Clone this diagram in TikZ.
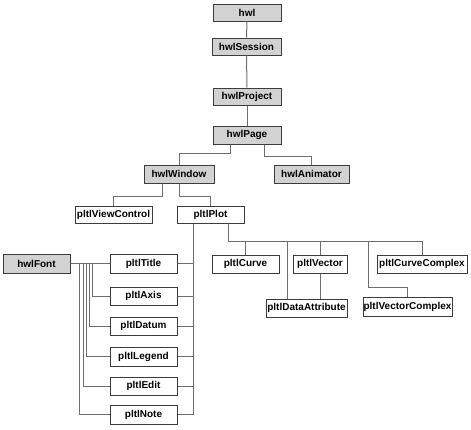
\documentclass[tikz,border=0pt]{standalone}
\usepackage{fontspec}
\setmainfont{Liberation Sans}
\usepackage{tikz}

\definecolor{boxgray}{HTML}{D2D2D2}
\definecolor{edgegray}{HTML}{3C3C3C}
\definecolor{linkgray}{HTML}{6E6E6E}

\tikzset{
    cls/.style={draw=edgegray, line width=1pt, fill=white, inner sep=0pt,
        minimum height=17pt, font=\fontsize{10}{11}\selectfont\bfseries},
    hcls/.style={cls, fill=boxgray},
    link/.style={draw=linkgray, line width=1pt}
}

\begin{document}
\begin{tikzpicture}[x=1pt, y=-1pt]
        \useasboundingbox (0,0) rectangle (471,429);
        % hwl part
        \node[hcls, minimum width=68pt] (hwl) at (247,12.5) {hwl};
        \node[hcls, minimum width=69pt] (session) at (246.5,46.5) {hwlSession};
        \node[hcls, minimum width=68pt] (project) at (247,96.5) {hwlProject};
        \node[hcls, minimum width=68pt, minimum height=18pt] (page) at (247,135) {hwlPage};
        \node[hcls, minimum width=70pt, minimum height=18pt] (window) at (179,174) {hwlWindow};
        \node[hcls, minimum width=75pt, minimum height=18pt] (animator) at (311.5,174) {hwlAnimator};
        \node[hcls, minimum width=67pt, minimum height=19pt] (font) at (36.5,263.5) {hwlFont};

        % pltl part
        \node[cls, minimum width=77pt] (viewctrl) at (113.5,214.5) {pltlViewControl};
        \node[cls, minimum width=67pt] (plot) at (210.5,214.5) {pltlPlot};
        \node[cls, minimum width=67pt, minimum height=19pt] (title) at (143.5,263.5) {pltlTitle};
        \node[cls, minimum width=67pt, minimum height=18pt] (axis) at (143.5,296) {pltlAxis};
        \node[cls, minimum width=67pt, minimum height=18pt] (datum) at (143.5,326) {pltlDatum};
        \node[cls, minimum width=67pt, minimum height=19pt] (legend) at (143.5,356.5) {pltlLegend};
        \node[cls, minimum width=67pt, minimum height=18pt] (edit) at (143.5,386) {pltlEdit};
        \node[cls, minimum width=67pt, minimum height=19pt] (note) at (143.5,414.5) {pltlNote};
        \node[cls, minimum width=67pt, minimum height=18pt] (curve) at (245.5,264) {pltlCurve};
        \node[cls, minimum width=54pt, minimum height=18pt] (vector) at (320,264) {pltlVector};
        \node[cls, minimum width=90pt, minimum height=18pt] (curvecx) at (422,264) {pltlCurveComplex};
        \node[cls, minimum width=81pt, minimum height=18pt] (dataattr) at (306.5,308) {pltlDataAttribute};
        \node[cls, minimum width=89pt, minimum height=19pt] (vectorcx) at (407.5,306.5) {pltlVectorComplex};

        % links
        \draw[link] (hwl) -- (session);
        \draw[link] (session) -- (project);
        \draw[link] (project) -- (page);
        \draw[link] ([xshift=-17pt]page.south) -- ++(0,9) -| (window.north);
        \draw[link] ([xshift=17pt]page.south) -- ++(0,12) -| (animator.north);
        \draw[link] ([xshift=-17pt]window.south) -- ++(0,13) -| (viewctrl.north);
        \draw[link] (window.south) -- ++(0,13) -| (plot.north);

        % plot to the left column
        \coordinate (spine) at ([xshift=-17.5pt]plot.south);
        \draw[link] (spine) |- (note.east);
        \foreach \n in {title,axis,datum,legend,edit}
            \draw[link] (\n.east) -- (\n.east -| spine);

        % plot to the right row
        \coordinate (bus) at ([xshift=17.5pt, yshift=-18pt]plot.south);
        \draw[link] ([xshift=17.5pt]plot.south) -- (bus) -- (bus -| curvecx.north) -- (curvecx.north);
        \draw[link] (bus -| curve.north) -- (curve.north);
        \draw[link] (bus -| vector.north) -- (vector.north);
        \draw[link] ([xshift=-19.5pt]dataattr.north |- bus) -- ([xshift=-19.5pt]dataattr.north);
        \draw[link] (vector.south) -- (vector.south |- dataattr.north);
        \draw[link] ([xshift=-39.5pt]vectorcx.north |- bus) -- ++(0,46) -| (vectorcx.north);

        % font to the left column
        \draw[link] (font) -- (title);
        \foreach \n/\dx in {axis/22,datum/19,legend/16,edit/13,note/9}
            \draw[link] ([xshift=\dx pt]font.east) |- (\n.west);
    \end{tikzpicture}
\end{document}
